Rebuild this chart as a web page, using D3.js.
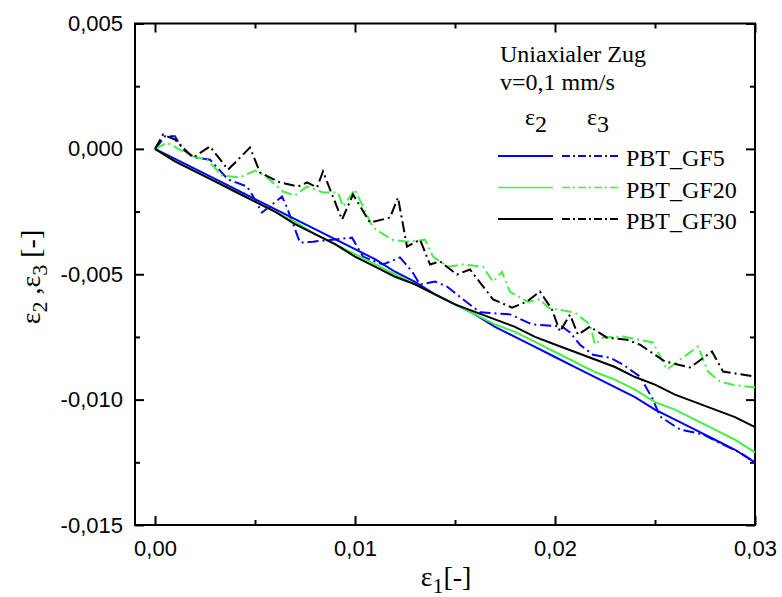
<!DOCTYPE html>
<html>
<head>
<meta charset="utf-8">
<script src="https://cdn.jsdelivr.net/npm/d3@7"></script>
<style>
  body { margin: 0; background: #fff; }
  .tick text { font-family: "Liberation Sans", Arial, sans-serif; font-size: 22px; fill: #000; }
  .serif { font-family: "Liberation Serif", "Times New Roman", serif; fill: #000; }
</style>
</head>
<body>
<svg id="chart" width="782" height="597"></svg>
<script>
// eps1 grid for the solid eps2 curves
const eps1 = d3.range(31).map(i => i / 1000);

const gf5_e2 = [0, -0.0004, -0.0008, -0.0012, -0.0016, -0.0020, -0.0024, -0.0028, -0.0032, -0.0036,
  -0.0040, -0.0044, -0.0049, -0.0053, -0.0058, -0.0062, -0.0066, -0.0071, -0.0075, -0.0079,
  -0.0083, -0.0087, -0.0091, -0.0095, -0.0099, -0.0104, -0.0108, -0.0112, -0.0116, -0.0120, -0.0125];
const gf20_e2 = [0, -0.0005, -0.0009, -0.0013, -0.0017, -0.0021, -0.0025, -0.0029, -0.0034, -0.0038,
  -0.0042, -0.0046, -0.0050, -0.0054, -0.0058, -0.0062, -0.0066, -0.0070, -0.0073, -0.0077,
  -0.0081, -0.0085, -0.0089, -0.0092, -0.0096, -0.0101, -0.0104, -0.0108, -0.0112, -0.0116, -0.0121];
const gf30_e2 = [0, -0.0005, -0.0009, -0.0013, -0.0017, -0.0021, -0.0025, -0.0030, -0.0034, -0.0038,
  -0.0043, -0.0047, -0.0051, -0.0054, -0.0058, -0.0062, -0.0065, -0.0068, -0.0071, -0.0075,
  -0.0078, -0.0081, -0.0084, -0.0087, -0.0091, -0.0094, -0.0098, -0.0101, -0.0104, -0.0107, -0.0111];

// eps3 curves, [eps1, eps3]
const gf5_e3 = [[0,0],[0.0005,0.0005],[0.001,0.0005],[0.0014,-0.00003],[0.002,-0.00035],[0.00275,-0.00043],
  [0.00365,-0.00122],[0.0046,-0.0015],[0.00485,-0.00182],[0.00535,-0.00254],[0.00635,-0.0019],[0.0066,-0.00234],
  [0.00725,-0.00374],[0.0079,-0.0037],[0.0089,-0.00362],[0.00985,-0.00354],[0.0104,-0.0043],[0.0114,-0.00461],
  [0.01225,-0.00433],[0.01285,-0.00489],[0.01325,-0.00541],[0.014,-0.00529],[0.0146,-0.00549],[0.0154,-0.006],
  [0.01625,-0.00652],[0.01775,-0.0066],[0.01885,-0.007],[0.02035,-0.00708],[0.02075,-0.00732],[0.02125,-0.00781],
  [0.0219,-0.00821],[0.02275,-0.00833],[0.0234,-0.0086],[0.02425,-0.00908],[0.0249,-0.01],[0.02525,-0.01067],
  [0.02625,-0.01119],[0.0274,-0.01139],[0.0281,-0.01167],[0.02925,-0.01211],[0.03,-0.01251]];
const gf20_e3 = [[0,0],[0.0006,0.00025],[0.00125,-0.00003],[0.0019,-0.0003],[0.0026,-0.00043],[0.00335,-0.00106],
  [0.00425,-0.00114],[0.005,-0.00087],[0.0055,-0.00107],[0.0064,-0.0017],[0.007,-0.00186],[0.0076,-0.0015],
  [0.0084,-0.00174],[0.00915,-0.00174],[0.0094,-0.0023],[0.01,-0.00162],[0.01035,-0.00222],[0.0109,-0.00314],
  [0.01185,-0.00362],[0.01265,-0.0037],[0.0135,-0.00362],[0.0139,-0.0043],[0.01465,-0.0047],[0.0154,-0.00461],
  [0.0164,-0.0047],[0.0169,-0.0053],[0.01735,-0.0049],[0.01775,-0.0057],[0.01865,-0.0061],[0.01925,-0.006],
  [0.01965,-0.00633],[0.021,-0.00653],[0.02175,-0.00701],[0.022,-0.0078],[0.0224,-0.00752],[0.0234,-0.00748],
  [0.0249,-0.00772],[0.0256,-0.0088],[0.0264,-0.00832],[0.02715,-0.00788],[0.02765,-0.00888],[0.02825,-0.00928],
  [0.02885,-0.0094],[0.03,-0.00952]];
const gf30_e3 = [[0,0],[0.0004,0.00057],[0.001,0.00037],[0.0019,-0.00035],[0.00275,0.0001],[0.00365,-0.00083],
  [0.00475,0.00005],[0.00525,-0.00094],[0.00625,-0.00134],[0.00715,-0.0015],[0.0076,-0.00134],[0.0081,-0.00154],
  [0.0084,-0.0009],[0.00935,-0.00282],[0.0099,-0.00182],[0.01075,-0.00294],[0.01175,-0.00274],[0.01215,-0.00194],
  [0.0126,-0.0039],[0.01325,-0.00362],[0.01375,-0.00461],[0.01425,-0.00449],[0.0151,-0.00501],[0.01575,-0.00481],
  [0.0169,-0.006],[0.01785,-0.00633],[0.0186,-0.00609],[0.01925,-0.00569],[0.01985,-0.00641],[0.02025,-0.00729],
  [0.02075,-0.00661],[0.02115,-0.00741],[0.02175,-0.00709],[0.0226,-0.00753],[0.0236,-0.00761],[0.02425,-0.00781],
  [0.0255,-0.00848],[0.02675,-0.00872],[0.02785,-0.00808],[0.0284,-0.00888],[0.03,-0.00908]];

const names = ["PBT_GF5", "PBT_GF20", "PBT_GF30"];
const colors = ["#0000ff", "#44f044", "#000000"];

const xMajor = [0, 0.01, 0.02, 0.03];
const xMinor = [0.005, 0.015, 0.025];
const yMajor = [-0.015, -0.01, -0.005, 0, 0.005];
const yMinor = [-0.0125, -0.0075, -0.0025, 0.0025];

const svg = d3.select("#chart");
const x = d3.scaleLinear().domain([-0.001, 0.03]).range([135, 755]);
const y = d3.scaleLinear().domain([-0.015, 0.005]).range([525, 23.5]);

const loc = d3.formatLocale({decimal: ",", thousands: ".", grouping: [3], currency: ["", ""], minus: "-"});
const fx = loc.format(".2f"), fy = loc.format(".3f");

// axes, ticks pointing inward
function axis(gen, tx, ty, vals, size, fmt, pad) {
  const g = svg.append("g").attr("transform", `translate(${tx},${ty})`)
    .call(gen.tickValues(vals).tickSize(size).tickPadding(pad).tickFormat(fmt || ""));
  g.select(".domain").remove();
  g.selectAll("line").attr("stroke", "#000").attr("stroke-width", 2);
  return g;
}
axis(d3.axisBottom(x), 0, 525, xMajor, -9, fx, 15);
axis(d3.axisBottom(x), 0, 525, xMinor, -5, null, 0);
axis(d3.axisTop(x), 0, 23.5, xMajor, -9, null, 0);
axis(d3.axisTop(x), 0, 23.5, xMinor, -5, null, 0);
axis(d3.axisLeft(y), 135, 0, yMajor, -9, fy, 12);
axis(d3.axisLeft(y), 135, 0, yMinor, -5, null, 0);
axis(d3.axisRight(y), 755, 0, yMajor, -9, null, 0);
axis(d3.axisRight(y), 755, 0, yMinor, -5, null, 0);

svg.append("rect").attr("x", 135).attr("y", 23.5).attr("width", 620).attr("height", 501.5)
  .attr("fill", "none").attr("stroke", "#000").attr("stroke-width", 2);

const line = d3.line().x(d => x(d[0])).y(d => y(d[1]));
const dash = "11,4,2,4";

[gf5_e3, gf20_e3, gf30_e3].forEach((s, i) => {
  svg.append("path").datum(s).attr("d", line).attr("fill", "none")
    .attr("stroke", colors[i]).attr("stroke-width", 2).attr("stroke-dasharray", dash);
});
[gf5_e2, gf20_e2, gf30_e2].forEach((s, i) => {
  svg.append("path").datum(eps1.map((e, j) => [e, s[j]])).attr("d", line).attr("fill", "none")
    .attr("stroke", colors[i]).attr("stroke-width", 2);
});

// legend
const lg = svg.append("g").attr("class", "serif").style("font-size", "24px");
lg.append("text").attr("x", 500).attr("y", 62).text("Uniaxialer Zug");
lg.append("text").attr("x", 500).attr("y", 90).text("v=0,1 mm/s");
[["2", 525], ["3", 587]].forEach(([s, px]) => {
  const t = lg.append("text").attr("x", px).attr("y", 125);
  t.append("tspan").text("ε");
  t.append("tspan").attr("dy", 7).text(s);
});
names.forEach((n, i) => {
  const ly = 156 + i * 31.5;
  const c = i == 1 ? "#33ff33" : colors[i];
  lg.append("line").attr("x1", 498).attr("x2", 553).attr("y1", ly).attr("y2", ly)
    .attr("stroke", c).attr("stroke-width", i == 1 ? 1.5 : 2);
  lg.append("line").attr("x1", 562).attr("x2", 621).attr("y1", ly).attr("y2", ly)
    .attr("stroke", c).attr("stroke-width", i == 1 ? 1.5 : 2).attr("stroke-dasharray", "8,3,2,3");
  lg.append("text").attr("x", 626).attr("y", ly + 10).text(n);
});

// axis titles
const xt = svg.append("text").attr("class", "serif").style("font-size", "28px")
  .attr("x", 446).attr("y", 586).attr("text-anchor", "middle");
xt.append("tspan").text("ε");
xt.append("tspan").attr("dy", 7).style("font-size", "22px").text("1");
xt.append("tspan").attr("dy", -7).text("[-]");

const yt = svg.append("text").attr("class", "serif").style("font-size", "28px")
  .attr("transform", "translate(40,277) rotate(-90)").attr("text-anchor", "middle");
yt.append("tspan").text("ε");
yt.append("tspan").attr("dy", 7).style("font-size", "22px").text("2");
yt.append("tspan").attr("dy", -7).text(" ,ε");
yt.append("tspan").attr("dy", 7).style("font-size", "22px").text("3");
yt.append("tspan").attr("dy", -7).text(" [-]");
</script>
</body>
</html>
